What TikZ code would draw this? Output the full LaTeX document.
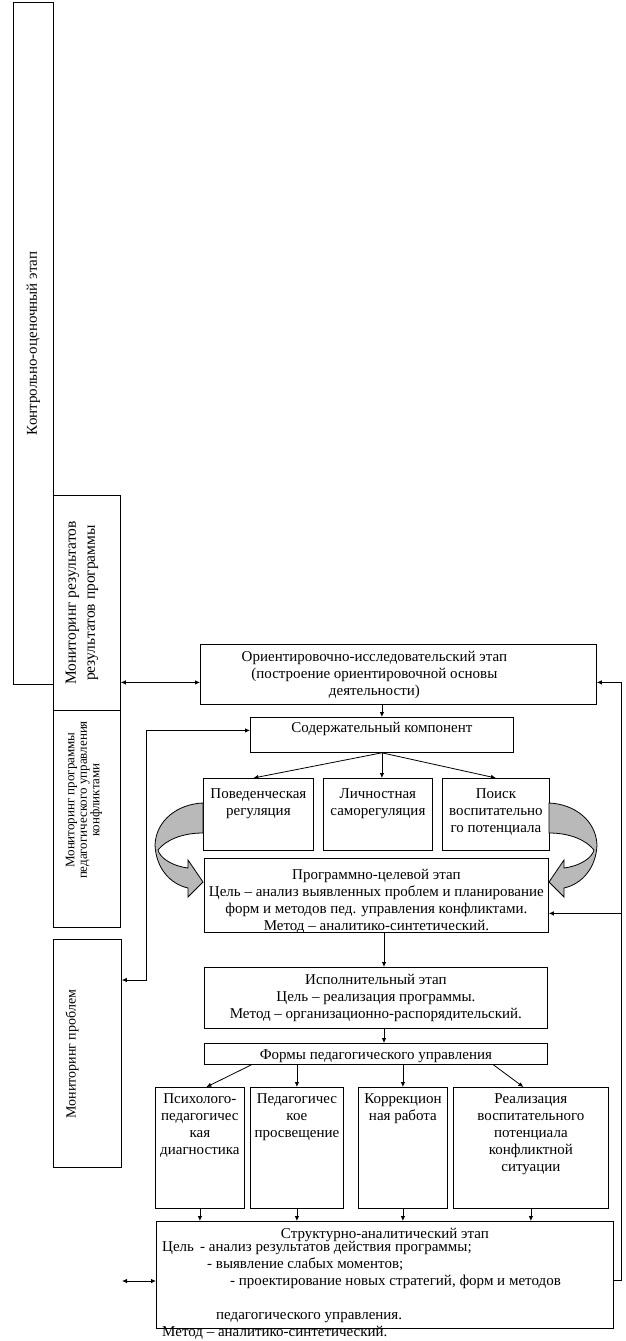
\documentclass[tikz,border=0pt]{standalone}
\usepackage{fontspec}
\setmainfont{Liberation Serif}
\usetikzlibrary{arrows.meta}

\tikzset{
  stage/.style={draw, line width=0.8pt, anchor=north west, inner sep=0pt},
  txt/.style={font=\fontsize{15}{17}\selectfont, align=center, inner sep=0pt},
  inbox/.style={txt, anchor=north, yshift=#1},
  vtxt/.style={align=center, inner sep=0pt, rotate=90},
  link/.style={line width=0.8pt, -{Latex[length=5pt,width=4.5pt]}},
  both/.style={line width=0.8pt, {Latex[length=5pt,width=4.5pt]}-{Latex[length=5pt,width=4.5pt]}},
  ribbon/.style={draw, line width=0.8pt, fill=gray!55},
}
\newcommand{\ribbonshape}{(203,803) .. controls (178,804) and (156,820) .. (155,845)
  .. controls (156,868) and (170,884) .. (188,888) -- (188,897) -- (203,882) -- (188,860) -- (188,868)
  .. controls (172,866) and (160,858) .. (158,850) .. controls (166,840) and (182,833) .. (203,833) -- cycle}

\begin{document}
\begin{tikzpicture}[x=1pt, y=-1pt]
\useasboundingbox (0,0) rectangle (625,1341);
% left column
\node[stage, minimum width=40pt, minimum height=682pt] (ctrl) at (13,2) {};
\node[vtxt, font=\fontsize{15}{17}\selectfont] (ctrltxt) at (ctrl.center) {Контрольно-оценочный этап};
\node[stage, minimum width=67pt, minimum height=215pt] (mres) at (53,495) {};
\node[vtxt, font=\fontsize{15.5}{19}\selectfont] (mrestxt) at (82,603) {Мониторинг результатов\\результатов программы};
\node[stage, minimum width=67pt, minimum height=217pt] (mprog) at (53,710) {};
\node[vtxt, font=\fontsize{13}{12.5}\selectfont] (mprogtxt) at (84,800) {Мониторинг программы\\педагогического управления\\конфликтами};
\node[stage, minimum width=68pt, minimum height=228pt] (mprob) at (53,939) {};
\node[vtxt, font=\fontsize{14}{16}\selectfont] (mprobtxt) at (72,1054) {Мониторинг проблем};

% stages
\node[stage, minimum width=396pt, minimum height=60pt,
  label={[inbox=-7pt, xshift=-24pt]north:{Ориентировочно-исследовательский этап\\(построение ориентировочной основы\\деятельности)}}] (orient) at (200,644) {};
\node[stage, minimum width=263pt, minimum height=35pt,
  label={[inbox=-5pt]north:{Содержательный компонент}}] (cont) at (250,717) {};
\node[stage, minimum width=110pt, minimum height=72pt,
  label={[inbox=-10pt]north:{Поведенческая\\регуляция}}] (beh) at (203,778) {};
\node[stage, minimum width=109pt, minimum height=72pt,
  label={[inbox=-10pt]north:{Личностная\\саморегуляция}}] (pers) at (323,778) {};
\node[stage, minimum width=107pt, minimum height=72pt,
  label={[inbox=-10pt]north:{Поиск\\воспитательно\\го потенциала}}] (search) at (442,778) {};
\node[stage, minimum width=344pt, minimum height=74pt,
  label={[inbox=-11pt]north:{Программно-целевой этап\\Цель – анализ выявленных проблем и планирование\\форм и методов пед. управления конфликтами.\\Метод – аналитико-синтетический.}}] (prog) at (204,858) {};
\node[stage, minimum width=343pt, minimum height=61pt,
  label={[inbox=-7pt]north:{Исполнительный этап\\Цель – реализация программы.\\Метод – организационно-распорядительский.}}] (exe) at (204,967) {};
\node[stage, minimum width=343pt, minimum height=21pt,
  label={[inbox=-6pt]north:{Формы педагогического управления}}] (forms) at (204,1043) {};
\node[stage, minimum width=89pt, minimum height=121pt,
  label={[inbox=-6pt]north:{Психолого-\\педагогичес\\кая\\диагностика}}] (diag) at (155,1087) {};
\node[stage, minimum width=93pt, minimum height=121pt,
  label={[inbox=-6pt]north:{Педагогичес\\кое\\просвещение}}] (educ) at (250,1087) {};
\node[stage, minimum width=89pt, minimum height=121pt,
  label={[inbox=-6pt]north:{Коррекцион\\ная работа}}] (corr) at (358,1087) {};
\node[stage, minimum width=155pt, minimum height=121pt,
  label={[inbox=-6pt]north:{Реализация\\воспитательного\\потенциала\\конфликтной\\ситуации}}] (real) at (453,1087) {};
\node[stage, minimum width=457pt, minimum height=107pt,
  label={[inbox=-7pt]north:{Структурно-аналитический этап}}] (struct) at (156,1221) {};
\node[txt, align=left, anchor=north west] (structtxt) at (162,1241)
  {\makebox[38pt][l]{Цель}- анализ результатов действия программы;\\
   \hspace*{45pt}- выявление слабых моментов;\\
   \hspace*{68pt}- проектирование новых стратегий, форм и методов\\[17pt]
   \hspace*{54pt}педагогического управления.\\
   Метод – аналитико-синтетический.};

% gray turn arrows
\path[ribbon] \ribbonshape;
\begin{scope}[xshift=752pt, xscale=-1]
  \path[ribbon] \ribbonshape;
\end{scope}

% connectors
\coordinate (axis) at (384,0);
\coordinate (orientin) at ([yshift=-8pt]orient.west);
\draw[both] (orientin -| mres.east) -- (orientin);
\draw[link] (orient.south -| cont.north) -- (cont.north);
\draw[link] (cont.south) -- ([xshift=-5pt]beh.north);
\draw[link] (cont.south) -- (cont.south |- pers.north);
\draw[link] (cont.south) -- (search.north);
\coordinate (contin) at ([yshift=4.5pt]cont.west);
\coordinate (lbend) at (146,980);
\draw[both] (contin) -| (lbend) -- (lbend -| mprob.east);
\draw[link] (prog.south -| axis) -- (exe.north -| axis);
\draw[link] (exe.south -| axis) -- (forms.north -| axis);
\draw[link] ([xshift=-124.5pt]forms.south) -- ([xshift=6.5pt]diag.north);
\draw[link] (forms.south -| educ.north) -- (educ.north);
\draw[link] (forms.south -| corr.north) -- (corr.north);
\draw[link] ([xshift=117.5pt]forms.south) -- ([xshift=-7.5pt]real.north);
\foreach \b in {diag,educ,corr,real}
  \draw[link] (\b.south) -- (\b.south |- struct.north);
\coordinate (rbend) at (621,1280);
\coordinate (progin) at ([yshift=-18pt]prog.east);
\coordinate (orientout) at ([yshift=-8pt]orient.east);
\draw[link] (rbend -| struct.east) -- (rbend) |- (orientout);
\draw[link] (progin -| rbend) -- (progin);
\coordinate (lfree) at (122,1281);
\draw[both] (lfree) -- (lfree -| struct.west);
\end{tikzpicture}
\end{document}
